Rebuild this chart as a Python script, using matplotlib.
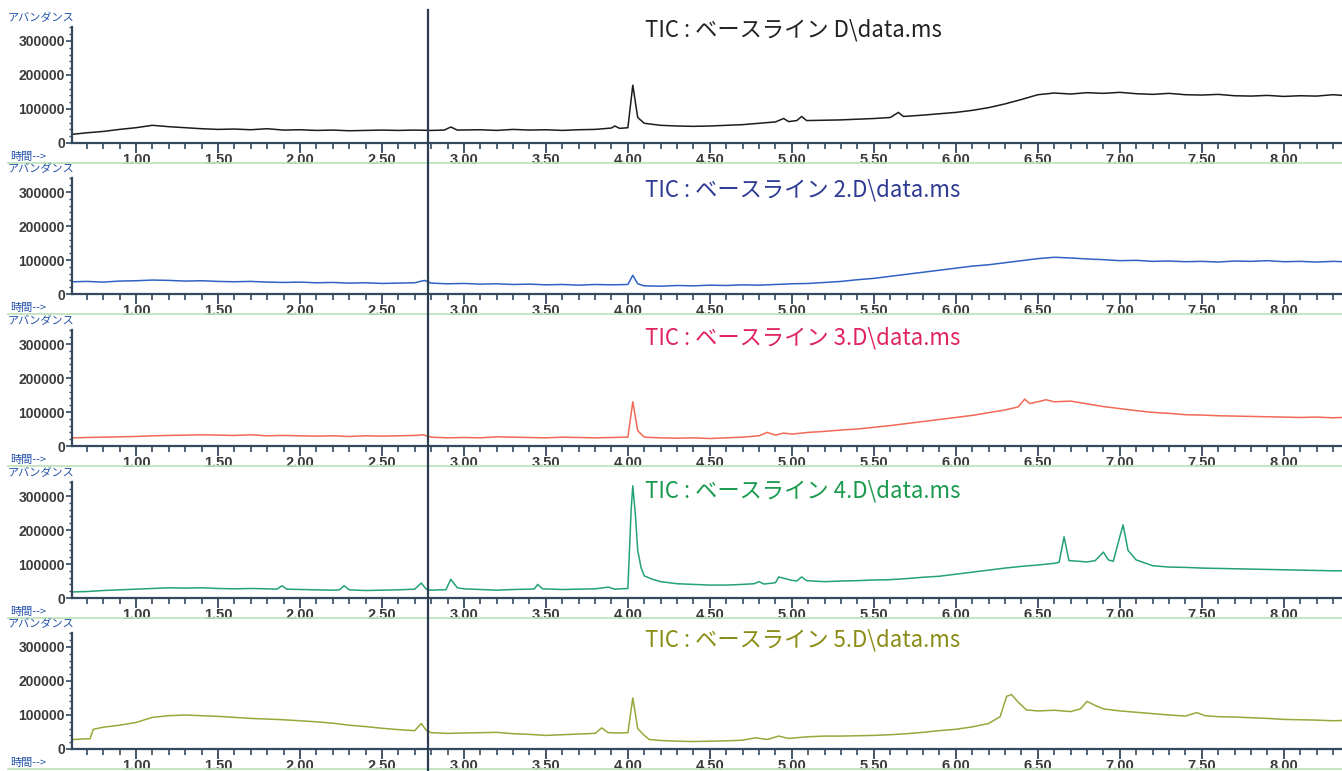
import matplotlib
matplotlib.use("Agg")
import matplotlib.pyplot as plt
from matplotlib.lines import Line2D
from matplotlib.ticker import MultipleLocator, FormatStrFormatter

plt.rcParams['font.family'] = ['Liberation Sans', 'DejaVu Sans']

# ---- data (time in min, abundance) ----
t1 = [0.62, 0.7, 0.8, 0.9, 1.0, 1.1, 1.2, 1.3, 1.4, 1.5, 1.6, 1.7, 1.8, 1.9, 2.0, 2.1, 2.2, 2.3, 2.4, 2.5,
      2.6, 2.7, 2.8, 2.88, 2.92, 2.96, 3.1, 3.2, 3.3, 3.4, 3.5, 3.6, 3.7, 3.8, 3.9, 3.92, 3.95, 4.0, 4.03, 4.06,
      4.1, 4.2, 4.3, 4.4, 4.5, 4.6, 4.7, 4.8, 4.9, 4.95, 4.98, 5.03, 5.06, 5.09, 5.2, 5.3, 5.4, 5.5, 5.6, 5.65,
      5.68, 5.8, 5.9, 6.0, 6.1, 6.2, 6.3, 6.4, 6.5, 6.6, 6.7, 6.8, 6.9, 7.0, 7.1, 7.2, 7.3, 7.4, 7.5, 7.6,
      7.7, 7.8, 7.9, 8.0, 8.1, 8.2, 8.3, 8.36]
v1 = [26000, 30000, 34000, 40000, 45000, 52000, 48000, 45000, 42000, 40000, 41000, 39000, 42000, 38000, 39000,
      37000, 38000, 36000, 37000, 38000, 37000, 38000, 37000, 38000, 47000, 38000, 39000, 37000, 40000, 38000,
      39000, 37000, 39000, 40000, 44000, 50000, 43000, 45000, 170000, 75000, 58000, 52000, 50000, 49000, 50000,
      52000, 54000, 58000, 62000, 72000, 63000, 66000, 78000, 66000, 67000, 68000, 70000, 72000, 75000, 90000,
      78000, 82000, 86000, 90000, 96000, 104000, 115000, 128000, 142000, 147000, 144000, 148000, 146000, 149000,
      145000, 143000, 146000, 142000, 141000, 143000, 139000, 138000, 140000, 137000, 139000, 138000, 142000, 140000]

t2 = [0.62, 0.7, 0.8, 0.9, 1.0, 1.1, 1.2, 1.3, 1.4, 1.5, 1.6, 1.7, 1.8, 1.9, 2.0, 2.1, 2.2, 2.3, 2.4, 2.5,
      2.6, 2.7, 2.76, 2.8, 2.9, 3.0, 3.1, 3.2, 3.3, 3.4, 3.5, 3.6, 3.7, 3.8, 3.9, 4.0, 4.03, 4.06, 4.1, 4.2,
      4.3, 4.4, 4.5, 4.6, 4.7, 4.8, 4.9, 5.0, 5.1, 5.2, 5.3, 5.4, 5.5, 5.6, 5.7, 5.8, 5.9, 6.0, 6.1, 6.2,
      6.3, 6.4, 6.5, 6.6, 6.7, 6.8, 6.9, 7.0, 7.1, 7.2, 7.3, 7.4, 7.5, 7.6, 7.7, 7.8, 7.9, 8.0, 8.1, 8.2,
      8.3, 8.36]
v2 = [36000, 37000, 35000, 38000, 39000, 41000, 40000, 38000, 39000, 37000, 36000, 37000, 35000, 34000, 35000,
      33000, 34000, 32000, 33000, 31000, 32000, 33000, 40000, 32000, 30000, 31000, 29000, 30000, 28000, 29000,
      27000, 28000, 26000, 28000, 27000, 28000, 55000, 30000, 24000, 23000, 25000, 24000, 26000, 25000, 27000,
      26000, 28000, 30000, 31000, 34000, 37000, 42000, 46000, 52000, 58000, 64000, 70000, 76000, 82000, 86000,
      92000, 98000, 104000, 108000, 106000, 103000, 101000, 98000, 99000, 96000, 97000, 95000, 96000, 94000,
      97000, 96000, 98000, 95000, 96000, 94000, 96000, 95000]

t3 = [0.62, 0.7, 0.8, 0.9, 1.0, 1.1, 1.2, 1.3, 1.4, 1.5, 1.6, 1.7, 1.8, 1.9, 2.0, 2.1, 2.2, 2.3, 2.4, 2.5,
      2.6, 2.7, 2.75, 2.8, 2.9, 3.0, 3.1, 3.2, 3.3, 3.4, 3.5, 3.6, 3.7, 3.8, 3.9, 4.0, 4.03, 4.06, 4.1, 4.2,
      4.3, 4.4, 4.5, 4.6, 4.7, 4.8, 4.85, 4.9, 4.95, 5.0, 5.1, 5.2, 5.3, 5.4, 5.5, 5.6, 5.7, 5.8, 5.9, 6.0,
      6.1, 6.2, 6.3, 6.38, 6.42, 6.45, 6.5, 6.55, 6.6, 6.7, 6.8, 6.9, 7.0, 7.1, 7.2, 7.3, 7.4, 7.5, 7.6, 7.7,
      7.8, 7.9, 8.0, 8.1, 8.2, 8.3, 8.36]
v3 = [24000, 25000, 26000, 27000, 28000, 30000, 31000, 32000, 33000, 32000, 31000, 33000, 30000, 31000, 30000,
      29000, 30000, 28000, 30000, 29000, 30000, 31000, 33000, 26000, 24000, 25000, 24000, 27000, 26000, 25000,
      24000, 26000, 25000, 24000, 25000, 26000, 130000, 45000, 26000, 24000, 23000, 24000, 22000, 24000, 26000,
      30000, 40000, 32000, 38000, 35000, 40000, 43000, 47000, 50000, 55000, 60000, 66000, 72000, 78000, 84000,
      90000, 98000, 106000, 115000, 138000, 125000, 130000, 136000, 130000, 132000, 124000, 116000, 110000,
      104000, 99000, 96000, 92000, 91000, 89000, 88000, 87000, 86000, 85000, 84000, 85000, 83000, 84000]

t4 = [0.62, 0.7, 0.8, 0.9, 1.0, 1.1, 1.2, 1.3, 1.4, 1.5, 1.6, 1.7, 1.8, 1.86, 1.89, 1.92, 2.0, 2.1, 2.2, 2.24,
      2.27, 2.3, 2.4, 2.5, 2.6, 2.7, 2.74, 2.77, 2.8, 2.85, 2.89, 2.92, 2.96, 3.0, 3.1, 3.2, 3.3, 3.4, 3.43, 3.45,
      3.48, 3.6, 3.7, 3.8, 3.88, 3.92, 4.0, 4.02, 4.03, 4.045, 4.06, 4.08, 4.1, 4.15, 4.2, 4.3, 4.4, 4.5, 4.6,
      4.7, 4.77, 4.8, 4.83, 4.9, 4.92, 4.95, 5.0, 5.03, 5.06, 5.09, 5.2, 5.3, 5.4, 5.5, 5.6, 5.7, 5.8, 5.9,
      6.0, 6.1, 6.2, 6.3, 6.4, 6.5, 6.6, 6.63, 6.66, 6.69, 6.75, 6.8, 6.85, 6.9, 6.93, 6.96, 7.0, 7.02, 7.05,
      7.1, 7.2, 7.3, 7.4, 7.5, 7.6, 7.7, 7.8, 7.9, 8.0, 8.1, 8.2, 8.3, 8.36]
v4 = [18000, 19000, 22000, 24000, 26000, 28000, 30000, 29000, 30000, 28000, 27000, 28000, 27000, 26000, 36000,
      26000, 25000, 24000, 23000, 24000, 36000, 24000, 22000, 23000, 24000, 26000, 44000, 26000, 23000, 24000,
      24000, 55000, 30000, 27000, 25000, 23000, 25000, 26000, 27000, 40000, 27000, 25000, 26000, 27000, 32000,
      26000, 28000, 260000, 330000, 250000, 140000, 90000, 65000, 55000, 48000, 42000, 40000, 38000, 38000,
      40000, 42000, 48000, 41000, 45000, 62000, 58000, 52000, 50000, 62000, 51000, 48000, 50000, 51000, 53000,
      54000, 57000, 61000, 64000, 70000, 76000, 82000, 88000, 93000, 97000, 102000, 105000, 180000, 110000,
      108000, 106000, 110000, 135000, 112000, 108000, 180000, 215000, 140000, 112000, 95000, 91000, 90000,
      88000, 87000, 86000, 85000, 84000, 83000, 82000, 81000, 80000, 80000]

t5 = [0.62, 0.66, 0.7, 0.72, 0.74, 0.8, 0.9, 1.0, 1.1, 1.2, 1.3, 1.4, 1.5, 1.6, 1.7, 1.8, 1.9, 2.0, 2.1, 2.2,
      2.3, 2.4, 2.5, 2.6, 2.7, 2.74, 2.77, 2.8, 2.9, 3.0, 3.1, 3.2, 3.3, 3.4, 3.5, 3.6, 3.7, 3.8, 3.84, 3.88,
      3.95, 4.0, 4.03, 4.06, 4.1, 4.13, 4.2, 4.3, 4.4, 4.5, 4.6, 4.7, 4.78, 4.85, 4.92, 4.98, 5.05, 5.1, 5.2,
      5.3, 5.4, 5.5, 5.6, 5.7, 5.8, 5.9, 6.0, 6.1, 6.2, 6.27, 6.31, 6.34, 6.38, 6.43, 6.5, 6.6, 6.7, 6.76,
      6.8, 6.85, 6.9, 7.0, 7.1, 7.2, 7.3, 7.4, 7.47, 7.52, 7.6, 7.7, 7.8, 7.9, 8.0, 8.1, 8.2, 8.3, 8.36]
v5 = [28000, 29000, 30000, 30000, 58000, 64000, 70000, 78000, 93000, 98000, 100000, 98000, 96000, 93000, 90000,
      88000, 86000, 83000, 80000, 76000, 70000, 66000, 61000, 57000, 54000, 75000, 55000, 48000, 46000, 47000,
      48000, 49000, 45000, 43000, 40000, 42000, 44000, 46000, 62000, 48000, 47000, 48000, 150000, 60000, 40000,
      28000, 25000, 23000, 22000, 23000, 24000, 26000, 33000, 28000, 38000, 31000, 34000, 36000, 38000, 38000,
      39000, 40000, 42000, 45000, 49000, 54000, 58000, 65000, 75000, 95000, 155000, 160000, 138000, 115000,
      112000, 114000, 110000, 118000, 140000, 128000, 118000, 112000, 108000, 104000, 100000, 97000, 107000,
      98000, 95000, 94000, 92000, 90000, 87000, 86000, 85000, 83000, 84000]

names = ["TIC : ベースライン D\\data.ms", "TIC : ベースライン 2.D\\data.ms", "TIC : ベースライン 3.D\\data.ms",
         "TIC : ベースライン 4.D\\data.ms", "TIC : ベースライン 5.D\\data.ms"]
times = [t1, t2, t3, t4, t5]
vals = [v1, v2, v3, v4, v5]
line_colors = ["#1c1c1c", "#2f62c4", "#f26a55", "#23a275", "#9aa63a"]
title_colors = ["#222222", "#2e3a93", "#e0245e", "#1a9a4e", "#8b8c14"]
cursor_t = 2.78

W, H = 1342, 771
fig = plt.figure(figsize=(W / 100, H / 100), dpi=100)
fig.patch.set_facecolor("white")

axis_col = "#34495e"
blue_txt = "#2452a8"
xmin, xmax = 0.61, 8.355
ytop = 340000
bases = [143, 294, 446, 598, 749]
title_off = [113, 104, 108, 107, 109]  # px above the zero line
left_px = 72
px_per = 0.00034  # pixels per abundance unit
jp = ["Noto Sans CJK JP", "DejaVu Sans"]

for i in range(5):
    base = bases[i]
    hpx = ytop * px_per
    ax = fig.add_axes([left_px / W, 1 - base / H, (W - left_px) / W, hpx / H])
    ax.plot(times[i], vals[i], color=line_colors[i], lw=1.1)
    ax.set_xlim(xmin, xmax)
    ax.set_ylim(0, ytop)
    for s in ["top", "right"]:
        ax.spines[s].set_visible(False)
    for s in ["left", "bottom"]:
        ax.spines[s].set_color(axis_col)
        ax.spines[s].set_linewidth(1.6)
    ax.set_xticks([x / 2 for x in range(2, 17)])
    ax.xaxis.set_minor_locator(MultipleLocator(0.1))
    ax.xaxis.set_major_formatter(FormatStrFormatter("%.2f"))
    ax.yaxis.set_major_locator(MultipleLocator(100000))
    ax.yaxis.set_minor_locator(MultipleLocator(20000))
    ax.yaxis.set_major_formatter(FormatStrFormatter("%d"))
    ax.tick_params(axis="x", which="major", direction="out", length=7, width=1.3, color=axis_col,
                   labelsize=10.5, labelcolor="#3a3a3a", pad=0)
    ax.tick_params(axis="x", which="minor", direction="out", length=4, width=1.2, color=axis_col)
    ax.tick_params(axis="y", which="major", direction="out", length=4, width=1.2, color=axis_col,
                   labelsize=10, labelcolor="#3a3a3a", pad=1)
    ax.tick_params(axis="y", which="minor", direction="out", length=2, width=1, color=axis_col)
    for lab in ax.get_xticklabels() + ax.get_yticklabels():
        lab.set_fontweight("bold")
    fig.text(645 / W, 1 - (base - title_off[i]) / H, names[i], color=title_colors[i], fontsize=16,
             va="center", ha="left", family=jp)
    fig.text(8 / W, 1 - (base - 125) / H, "アバンダンス", color=blue_txt, fontsize=8,
             va="center", ha="left", family=jp)
    fig.text(10 / W, 1 - (base + 14) / H, "時間-->", color=blue_txt, fontsize=8,
             va="center", ha="left", family=jp)
    # light green separator under each panel
    fig.add_artist(Line2D([8 / W, 1], [1 - (base + 20) / H] * 2, color="#bfe3bd", lw=1.3))

# cursor line running through all panels
xfig = (left_px + (cursor_t - xmin) / (xmax - xmin) * (W - left_px)) / W
fig.add_artist(Line2D([xfig, xfig], [0, 1 - 10 / H], color="#2c3e50", lw=1.6))

fig.savefig("out.png", dpi=100, facecolor="white")
